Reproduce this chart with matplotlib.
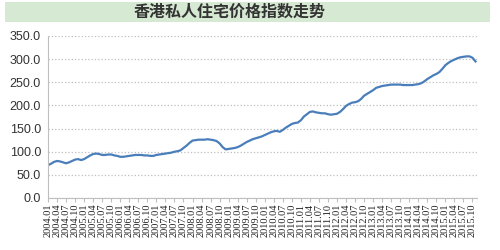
import matplotlib
matplotlib.use('Agg')
import matplotlib.pyplot as plt
from matplotlib.patches import Rectangle

plt.rcParams['font.family'] = ['Noto Sans CJK SC', 'DejaVu Sans']

title = '香港私人住宅价格指数走势'

# monthly index, 2004.01 - 2015.11
values = (
    [71, 74, 78, 80, 79, 77, 75, 77, 80, 83, 84, 82] +        # 2004
    [84, 88, 92, 95, 96, 95, 93, 93, 94, 94, 92, 91] +        # 2005
    [89, 89, 90, 91, 92, 93, 93, 93, 92, 92, 91, 91] +        # 2006
    [93, 94, 95, 96, 97, 98, 100, 101, 103, 108, 113, 119] +  # 2007
    [124, 125, 126, 126, 126, 127, 126, 125, 123, 118, 110, 105] +  # 2008
    [106, 107, 108, 110, 113, 117, 121, 124, 127, 129, 131, 133] +  # 2009
    [136, 139, 142, 144, 145, 143, 147, 152, 156, 160, 162, 163] +  # 2010
    [168, 176, 181, 186, 187, 185, 184, 183, 183, 181, 180, 181] +  # 2011
    [182, 186, 192, 199, 203, 206, 207, 209, 214, 221, 225, 229] +  # 2012
    [233, 238, 240, 242, 243, 244, 245, 245, 245, 245, 244, 244] +  # 2013
    [244, 244, 245, 246, 248, 252, 257, 261, 265, 268, 272, 279] +  # 2014
    [287, 292, 296, 299, 302, 304, 305, 306, 306, 303, 295]         # 2015
)

tick_labels = ['%d.%02d' % (y, m) for y in range(2004, 2016) for m in (1, 4, 7, 10)]
y_ticks = [0, 50, 100, 150, 200, 250, 300, 350]

fig = plt.figure(figsize=(5, 2.5), dpi=100)
fig.patch.set_facecolor('white')

# title band
fig.patches.append(Rectangle((0.01, 0.912), 0.97, 0.08, transform=fig.transFigure,
                             facecolor='#d6e9d2', edgecolor='none'))
fig.text(0.46, 0.952, title, ha='center', va='center', fontsize=11.5,
         fontweight='bold', color='#333333')

ax = fig.add_axes([0.096, 0.208, 0.858, 0.648])
ax.plot(range(len(values)), values, color='#4a7ebb', linewidth=1.6)

ax.set_ylim(0, 350)
ax.set_yticks(y_ticks)
ax.set_yticklabels(['%.1f' % v for v in y_ticks], family='Liberation Sans', fontsize=9,
                   color='#333333')
ax.set_xlim(0, len(values) - 0.5)
ax.set_xticks(range(0, len(tick_labels) * 3, 3))
ax.set_xticklabels(tick_labels, rotation=90, family='Liberation Serif', fontsize=7.5,
                   color='#222222')

ax.grid(axis='y', color='#bfbfbf', linestyle=':', linewidth=0.9)
ax.set_axisbelow(True)
for s in ['top', 'right']:
    ax.spines[s].set_visible(False)
for s in ['left', 'bottom']:
    ax.spines[s].set_color('#bfbfbf')
ax.tick_params(axis='y', length=0, pad=5)
ax.tick_params(axis='x', length=3, color='#bfbfbf', pad=1)

fig.savefig('out.png', dpi=100)
